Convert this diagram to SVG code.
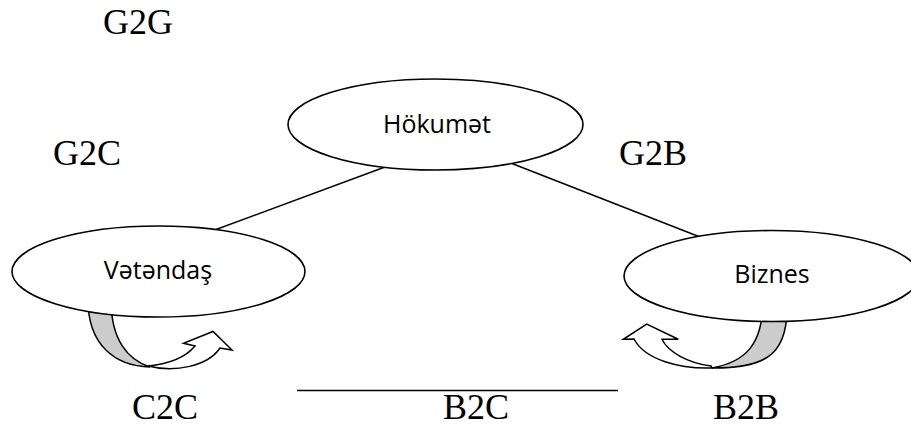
<svg xmlns="http://www.w3.org/2000/svg" width="911" height="427" viewBox="0 0 911 427">
  <style>
    .node { fill: #ffffff; stroke: #000000; stroke-width: 1.6; }
    .node-label { font-family: "Open Sans", "Noto Sans", sans-serif; font-size: 25px; fill: #000000; text-anchor: middle; }
    .rel-label { font-family: "Liberation Serif", "Times New Roman", serif; font-size: 36px; fill: #000000; }
    .link { stroke: #000000; stroke-width: 1.5; fill: none; }
    .loop-back { fill: #cccccc; stroke: #000000; stroke-width: 1.5; stroke-linejoin: miter; }
    .loop-front { fill: #ffffff; stroke: #000000; stroke-width: 1.5; stroke-linejoin: miter; }
  </style>

  <!-- relation labels -->
  <text class="rel-label" x="103" y="34">G2G</text>
  <text class="rel-label" x="53" y="165">G2C</text>
  <text class="rel-label" x="619" y="165">G2B</text>
  <text class="rel-label" x="132" y="418.5">C2C</text>
  <text class="rel-label" x="443" y="418.5">B2C</text>
  <text class="rel-label" x="713" y="418.5">B2B</text>

  <!-- connectors -->
  <g id="connectors">
    <line class="link" x1="385" y1="167" x2="216" y2="229.5"/>
    <line class="link" x1="512" y1="163.5" x2="700" y2="237"/>
    <line class="link" x1="297" y1="390.5" x2="618" y2="390.5"/>
  </g>

  <!-- curved self-arrow under Vətəndaş -->
  <g id="loop-c2c">
    <path class="loop-back" d="M 88,300 C 88,345 115,366 150,367 C 128,360 111,340 111,300 Z"/>
    <path class="loop-front" d="M 148,366 C 175,373 208,366 220,348 L 232,350 L 213,331.5 L 183.5,343.3 L 195,346 C 185,358 168,364 148,366 Z"/>
  </g>

  <!-- curved self-arrow under Biznes -->
  <g id="loop-b2b">
    <path class="loop-back" d="M 787.5,300 C 787.5,352 772,368 712,368 C 745,362 763,345 763,300 Z"/>
    <path class="loop-front" d="M 712,368 C 680,369 645,360 634,339 L 623.3,339.3 L 646.7,324 L 678.3,339.3 L 662,339.3 C 668,352 688,363 711,366 Z"/>
  </g>

  <!-- nodes -->
  <g id="node-hokumet">
    <ellipse class="node" cx="435.5" cy="124.5" rx="147.5" ry="45.5"/>
    <text class="node-label" x="437" y="133">Hökumət</text>
  </g>
  <g id="node-vetendas">
    <ellipse class="node" cx="158.5" cy="271.5" rx="146.5" ry="45.5"/>
    <text class="node-label" x="158" y="279">Vətəndaş</text>
  </g>
  <g id="node-biznes">
    <ellipse class="node" cx="771.5" cy="276" rx="147.5" ry="45.5"/>
    <text class="node-label" x="772" y="283">Biznes</text>
  </g>
</svg>
